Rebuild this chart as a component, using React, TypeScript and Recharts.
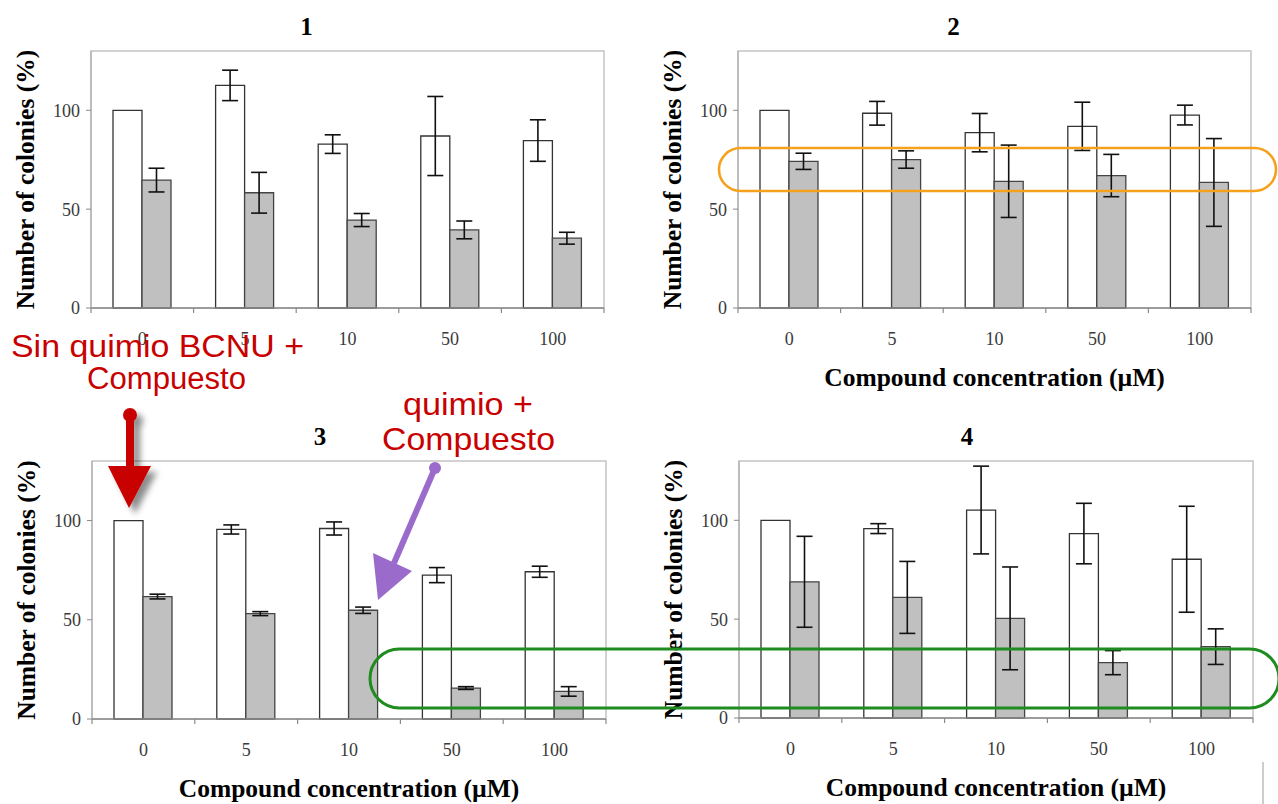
import { BarChart, Bar, XAxis, YAxis, ErrorBar, ReferenceArea } from "recharts";

const SERIF = "'Liberation Serif', 'Times New Roman', serif";
const SANS = "'Liberation Sans', Arial, sans-serif";

const CONCENTRATIONS = ["0", "5", "10", "50", "100"];
const Y_TICKS = [0, 50, 100];
const Y_MAX = 130;

// panel 1
const P1_CONTROL = [100, 112.6, 82.9, 87, 84.7];
const P1_CONTROL_ERR = [0, 7.7, 4.7, 20, 10.5];
const P1_CHEMO = [64.7, 58.3, 44.5, 39.5, 35.3];
const P1_CHEMO_ERR = [6, 10.3, 3.3, 4.5, 3];

// panel 2
const P2_CONTROL = [100, 98.5, 88.7, 91.9, 97.6];
const P2_CONTROL_ERR = [0, 6, 9.7, 12.2, 5];
const P2_CHEMO = [74.2, 75.1, 64.1, 67, 63.5];
const P2_CHEMO_ERR = [4.1, 4.4, 18.3, 10.7, 22.2];

// panel 3
const P3_CONTROL = [100, 95.5, 96, 72.5, 74.2];
const P3_CONTROL_ERR = [0, 2.3, 3.3, 3.8, 2.8];
const P3_CHEMO = [61.7, 53.1, 54.8, 15.6, 13.9];
const P3_CHEMO_ERR = [1.2, 1, 1.6, 0.7, 2.4];

// panel 4
const P4_CONTROL = [100, 95.8, 105.2, 93.3, 80.3];
const P4_CONTROL_ERR = [0, 2.5, 22.2, 15.3, 26.8];
const P4_CHEMO = [68.9, 61, 50.4, 28, 36.1];
const P4_CHEMO_ERR = [23, 18.2, 26, 6.1, 9];

const Y_LABEL = "Number of colonies (%)";
const X_TITLE = "Compound concentration (\u00b5M)";

function buildRows(control: number[], controlErr: number[], chemo: number[], chemoErr: number[]) {
  return CONCENTRATIONS.map((conc, i) => ({
    conc,
    control: control[i],
    controlErr: controlErr[i],
    chemo: chemo[i],
    chemoErr: chemoErr[i],
  }));
}

type Box = { left: number; top: number; width: number; height: number };
type Plot = { left: number; right: number; top: number; bottom: number };

type PanelProps = {
  box: Box;
  plot: Plot;
  title: string;
  titleShift: number;
  rows: ReturnType<typeof buildRows>;
  showXTitle: boolean;
};

const X_AXIS_HEIGHT = 84;

function Panel({ box, plot, title, titleShift, rows, showXTitle }: PanelProps) {
  const yAxisWidth = 70;
  const margin = {
    left: plot.left - box.left - yAxisWidth,
    right: box.left + box.width - plot.right,
    top: plot.top - box.top,
    bottom: box.top + box.height - plot.bottom - X_AXIS_HEIGHT,
  };
  // chart-local coordinates
  const pLeft = plot.left - box.left;
  const pTop = plot.top - box.top;
  const pBottom = plot.bottom - box.top;
  const cx = (plot.left + plot.right) / 2 - box.left;
  const cy = (pTop + pBottom) / 2;
  const bandW = (plot.right - plot.left) / CONCENTRATIONS.length;
  const lastValue = CONCENTRATIONS[CONCENTRATIONS.length - 1];

  const renderTitle = () => (
    <text x={cx + titleShift} y={pTop - 16} textAnchor="middle" fontFamily={SERIF} fontWeight="bold" fontSize={25} fill="#000">
      {title}
    </text>
  );
  const renderYLabel = () => (
    <text
      x={pLeft - 66}
      y={cy}
      dy="0.35em"
      transform={`rotate(-90, ${pLeft - 66}, ${cy})`}
      textAnchor="middle"
      fontFamily={SERIF}
      fontWeight="bold"
      fontSize={25.5}
      fill="#000"
    >
      {Y_LABEL}
    </text>
  );
  const renderXTitle = () => (
    <text x={cx} y={pBottom + 78} textAnchor="middle" fontFamily={SERIF} fontWeight="bold" fontSize={25.5} fill="#000">
      {X_TITLE}
    </text>
  );
  // category label plus the small tick marks on the category boundaries
  const renderTick = (props: any) => {
    const { x, y, payload } = props;
    const left = x - bandW / 2;
    const right = x + bandW / 2;
    return (
      <g>
        <line x1={left} x2={left} y1={y} y2={y + 5} stroke="#8a8a8a" strokeWidth={1.2} />
        {payload.value === lastValue && <line x1={right} x2={right} y1={y} y2={y + 5} stroke="#8a8a8a" strokeWidth={1.2} />}
        <text x={x} y={y + 24} dy="0.71em" textAnchor="middle" fontFamily={SERIF} fontSize={18} fill="#3a3a3a">
          {payload.value}
        </text>
      </g>
    );
  };

  return (
    <div style={{ position: "absolute", left: box.left, top: box.top }}>
      <BarChart width={box.width} height={box.height} data={rows} margin={margin} barSize={29} barGap={0}>
        <ReferenceArea y1={0} y2={Y_MAX} fill="none" stroke="#c4c4c4" strokeWidth={1.5} label={renderTitle} />
        <XAxis
          dataKey="conc"
          type="category"
          height={X_AXIS_HEIGHT}
          interval={0}
          axisLine={{ stroke: "#8a8a8a", strokeWidth: 1.3 }}
          tickLine={false}
          tickSize={0}
          tickMargin={0}
          tick={renderTick}
          label={showXTitle ? renderXTitle : undefined}
        />
        <YAxis
          domain={[0, Y_MAX]}
          ticks={Y_TICKS}
          width={yAxisWidth}
          axisLine={{ stroke: "#a8a8a8" }}
          tickLine={{ stroke: "#8a8a8a" }}
          tickSize={5}
          tickMargin={6}
          tick={{ fontSize: 18, fill: "#3a3a3a", fontFamily: SERIF }}
          label={renderYLabel}
        />
        <Bar dataKey="control" fill="#ffffff" stroke="#333" strokeWidth={1.3} isAnimationActive={false}>
          <ErrorBar dataKey="controlErr" direction="y" width={8} stroke="#111" strokeWidth={1.6} />
        </Bar>
        <Bar dataKey="chemo" fill="#c0c0c0" stroke="#444" strokeWidth={1.3} isAnimationActive={false}>
          <ErrorBar dataKey="chemoErr" direction="y" width={8} stroke="#111" strokeWidth={1.6} />
        </Bar>
      </BarChart>
    </div>
  );
}

function Annotations() {
  const red = "#c80000";
  const purple = "#9b6bcc";
  return (
    <svg width={1278} height={804} style={{ position: "absolute", left: 0, top: 0, pointerEvents: "none" }}>
      <defs>
        <filter id="arrowShadow" x="-60%" y="-30%" width="220%" height="160%">
          <feDropShadow dx="6" dy="6" stdDeviation="3" floodColor="#000" floodOpacity="0.45" />
        </filter>
      </defs>

      <rect x={719} y={148} width={557} height={43} rx={21.5} fill="none" stroke="#f5a11c" strokeWidth={2.6} />
      <rect x={370} y={649} width={909} height={59} rx={29.5} fill="none" stroke="#1e8c1e" strokeWidth={3} />

      <text x={11} y={357} fontFamily={SANS} fontSize={31} fill={red} textLength={293} lengthAdjust="spacingAndGlyphs">
        Sin quimio BCNU +
      </text>
      <text x={87} y={389} fontFamily={SANS} fontSize={31} fill={red} textLength={159} lengthAdjust="spacingAndGlyphs">
        Compuesto
      </text>
      <text x={403} y={415} fontFamily={SANS} fontSize={32} fill={red} textLength={130} lengthAdjust="spacingAndGlyphs">
        quimio +
      </text>
      <text x={382} y={450} fontFamily={SANS} fontSize={32} fill={red} textLength={173} lengthAdjust="spacingAndGlyphs">
        Compuesto
      </text>

      <g filter="url(#arrowShadow)" fill={red}>
        <circle cx={130} cy={415} r={7} />
        <rect x={126} y={415} width={8} height={56} />
        <polygon points="108,466 151,466 129,508" />
      </g>

      <g fill={purple} stroke={purple}>
        <circle cx={435} cy={468} r={6} stroke="none" />
        <line x1={435} y1={468} x2={394} y2={563} strokeWidth={6} />
        <polygon points="373,553 412,571 378,600" stroke="none" />
      </g>

      <line x1={1263} y1={762} x2={1263} y2={804} stroke="#bdbdbd" strokeWidth={1.5} />
    </svg>
  );
}

export default function App() {
  return (
    <div style={{ position: "absolute", left: 0, top: 0, width: 1278, height: 804, background: "#fff", overflow: "hidden" }}>
      <Panel
        box={{ left: 0, top: 0, width: 640, height: 400 }}
        plot={{ left: 91, right: 604, top: 51, bottom: 308 }}
        title="1"
        titleShift={-41}
        rows={buildRows(P1_CONTROL, P1_CONTROL_ERR, P1_CHEMO, P1_CHEMO_ERR)}
        showXTitle={false}
      />
      <Panel
        box={{ left: 640, top: 0, width: 638, height: 400 }}
        plot={{ left: 738, right: 1251, top: 51, bottom: 308 }}
        title="2"
        titleShift={-41}
        rows={buildRows(P2_CONTROL, P2_CONTROL_ERR, P2_CHEMO, P2_CHEMO_ERR)}
        showXTitle
      />
      <Panel
        box={{ left: 0, top: 400, width: 640, height: 404 }}
        plot={{ left: 92, right: 606, top: 461, bottom: 719 }}
        title="3"
        titleShift={-29}
        rows={buildRows(P3_CONTROL, P3_CONTROL_ERR, P3_CHEMO, P3_CHEMO_ERR)}
        showXTitle
      />
      <Panel
        box={{ left: 640, top: 400, width: 638, height: 404 }}
        plot={{ left: 739, right: 1253, top: 461, bottom: 718 }}
        title="4"
        titleShift={-29}
        rows={buildRows(P4_CONTROL, P4_CONTROL_ERR, P4_CHEMO, P4_CHEMO_ERR)}
        showXTitle
      />
      <Annotations />
    </div>
  );
}
